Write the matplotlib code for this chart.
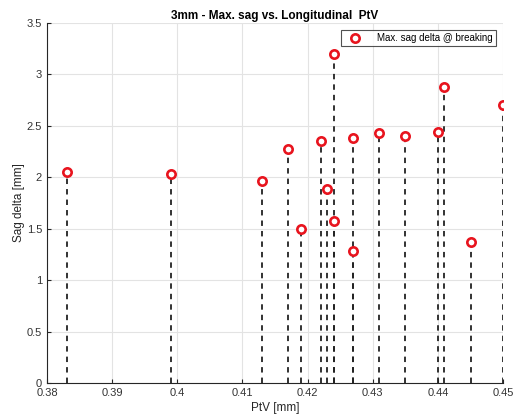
import matplotlib
matplotlib.use("Agg")
import matplotlib.pyplot as plt
from matplotlib.ticker import FuncFormatter, MultipleLocator

plt.rcParams['font.family'] = ['Liberation Sans', 'DejaVu Sans']

# Longitudinal PtV [mm] and maximum sag delta at breaking [mm]
ptv = [0.383, 0.399, 0.413, 0.417, 0.419, 0.422, 0.423, 0.424, 0.424,
       0.427, 0.427, 0.431, 0.435, 0.440, 0.441, 0.445, 0.450]
sag_delta = [2.05, 2.03, 1.96, 2.27, 1.50, 2.35, 1.89, 3.20, 1.58,
             2.38, 1.28, 2.43, 2.40, 2.44, 2.88, 1.37, 2.70]

title = "3mm - Max. sag vs. Longitudinal  PtV"
xlabel = "PtV [mm]"
ylabel = "Sag delta [mm]"
legend_label = "Max. sag delta @ breaking"

fig = plt.figure(figsize=(5.16, 4.16), dpi=100)
ax = fig.add_axes([0.091, 0.079, 0.884, 0.866])

ax.vlines(ptv, 0, sag_delta, colors='#222222', linestyles=(0, (3.0, 2.8)),
          linewidth=1.3, zorder=2)
ax.plot(ptv, sag_delta, linestyle='none', marker='o', markersize=6,
        markerfacecolor='white', markeredgecolor='#e8141e',
        markeredgewidth=1.9, label=legend_label, zorder=3)

ax.set_xlim(0.38, 0.45)
ax.set_ylim(0, 3.5)
ax.xaxis.set_major_locator(MultipleLocator(0.01))
ax.yaxis.set_major_locator(MultipleLocator(0.5))
fmt = FuncFormatter(lambda v, p: f"{v:.10g}")
ax.xaxis.set_major_formatter(fmt)
ax.yaxis.set_major_formatter(fmt)

ax.grid(True, color='#e3e3e3', linewidth=0.8, zorder=0)
ax.set_axisbelow(True)
for s in ('top', 'right'):
    ax.spines[s].set_visible(False)
for s in ('left', 'bottom'):
    ax.spines[s].set_color('#262626')
    ax.spines[s].set_linewidth(0.8)
ax.tick_params(direction='in', length=3, width=0.8, colors='#262626',
               labelsize=8, labelcolor='#333333')

ax.set_title(title, fontsize=8.5, fontweight='bold', pad=3)
ax.set_xlabel(xlabel, fontsize=8.5, color='#262626', labelpad=3)
ax.set_ylabel(ylabel, fontsize=8.5, color='#262626', labelpad=1)

leg = ax.legend(loc='upper right', fontsize=7, frameon=True, fancybox=False,
                edgecolor='#262626', borderaxespad=0.7, handletextpad=1.2,
                handlelength=2.2, borderpad=0.35)
leg.get_frame().set_linewidth(0.8)

fig.savefig("out.png", dpi=100)
